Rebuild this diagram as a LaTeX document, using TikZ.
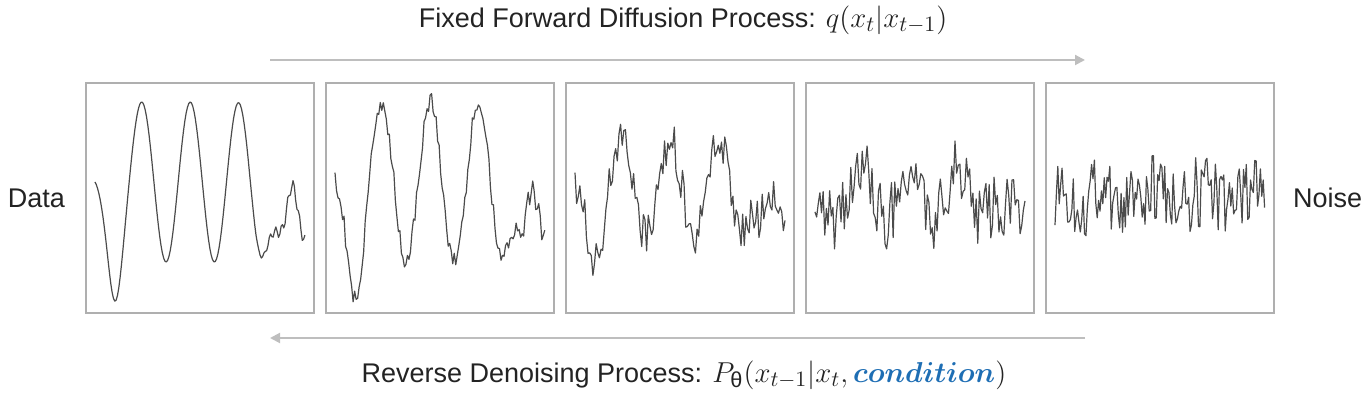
\documentclass[tikz,border=0pt]{standalone}
\usepackage{fontspec}
\setmainfont{Liberation Sans}
\usepackage{amsmath, amssymb}
\usetikzlibrary{arrows.meta, positioning}
\definecolor{frame1}{RGB}{175,175,175}
\definecolor{arrow1}{RGB}{190,190,190}
\definecolor{wave1}{RGB}{75,75,75}
\definecolor{text1}{RGB}{35,35,35}
\definecolor{blue1}{RGB}{30,110,180}
\newcommand{\bigmath}[1]{{\fontsize{15.5}{16}\selectfont$#1$}}

\begin{document}
\begin{tikzpicture}[x=0.5pt, y=-0.5pt,
  stage/.style={draw=frame1, line width=1pt, minimum width=114pt, minimum height=115pt, inner sep=0pt},
  wave/.style={draw=wave1, line width=0.6pt, line join=round},
  flow/.style={draw=arrow1, line width=1pt, -{Triangle[length=5pt, width=5pt]}},
  title/.style={font=\fontsize{13.5}{16}\selectfont, text=text1},
  side/.style={font=\fontsize{13.5}{16}\selectfont, text=text1},
  declare function={
    env(\u)=1/(1+exp(40*(\u-0.82)));
    phs(\u)=360*\u/0.23-80*(1-exp(-\u/0.06));
    base(\u)=-16+env(\u)*(80+40*exp(-(((\u-0.09)/0.05)^2)))*sin(phs(\u))
      +(1-env(\u))*(62-58*exp(-(((\u-0.94)/0.035)^2))+6*sin(360*\u/0.028));
  }]
  \useasboundingbox (0,0) rectangle (1372,394);
  \pgfmathsetseed{7}

  % stages of the chain
  \node[stage] (s1) at (200,198) {};
  \node[stage, right=5pt of s1] (s2) {};
  \node[stage, right=5pt of s2] (s3) {};
  \node[stage, right=5pt of s3] (s4) {};
  \node[stage, right=5pt of s4] (s5) {};

  % signal with growing noise
  \foreach \i/\sig/\noi/\ns in {1/1/0/160, 2/1/10/140, 3/0.6/20/130, 4/0.3/32/130, 5/0.05/38/150} {
    \begin{scope}[shift={(s\i.west)}]
      \draw[wave] plot[domain=0:1, samples=\ns] ({10+210*\x}, {\sig*base(\x)+\noi*rand});
    \end{scope}
  }

  \node[side, left=6.5pt of s1] (data) {Data};
  \node[side, right=5.5pt of s5] (noise) {Noise};

  % forward and reverse processes
  \coordinate (f0) at (270,60);
  \coordinate (f1) at (1085,60);
  \coordinate (r0) at (1085,338);
  \coordinate (r1) at (270,338);
  \draw[flow] (f0) -- (f1);
  \draw[flow] (r0) -- (r1);

  \node[title] (fwd) at (683,20) {Fixed Forward Diffusion Process: \bigmath{q(x_t|x_{t-1})}};
  \node[title] (rev) at (684,375) {Reverse Denoising Process: \bigmath{P_{\text{θ}}(x_{t-1}|x_t, \textcolor{blue1}{\boldsymbol{condition}})}};
\end{tikzpicture}
\end{document}
